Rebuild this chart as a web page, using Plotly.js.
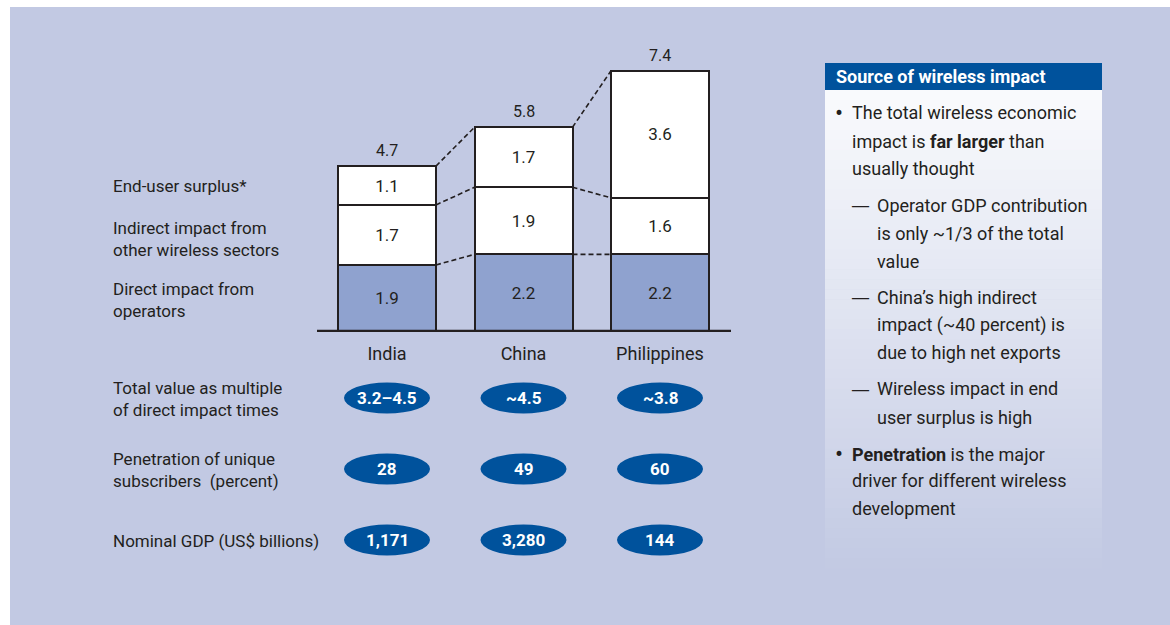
<!DOCTYPE html>
<html>
<head>
<meta charset="utf-8">
<script src="https://cdn.plot.ly/plotly-3.0.1.min.js"></script>
<style>html,body{margin:0;padding:0;background:#fff;}#chart{width:1170px;height:625px;}</style>
</head>
<body>
<div id="chart"></div>
<script>
// ---- data ----
const categories = ['India', 'China', 'Philippines'];
const directImpact = [1.9, 2.2, 2.2];
const indirectImpact = [1.7, 1.9, 1.6];
const endUserSurplus = [1.1, 1.7, 3.6];
const totals = [4.7, 5.8, 7.4];
const seriesLabels = ['Direct impact from<br>operators', 'Indirect impact from<br>other wireless sectors', 'End-user surplus*'];
const multiples = ['3.2–4.5', '~4.5', '~3.8'];
const penetration = ['28', '49', '60'];
const nominalGdp = ['1,171', '3,280', '144'];
const rowLabels = ['Total value as multiple<br>of direct impact times', 'Penetration of unique<br>subscribers  (percent)', 'Nominal GDP (US$ billions)'];
const boxTitle = 'Source of wireless impact';
const boxLines = [
  {kind: 'bullet', lines: ['The total wireless economic', 'impact is <b>far larger</b> than', 'usually thought']},
  {kind: 'dash', lines: ['Operator GDP contribution', 'is only ~1/3 of the total', 'value']},
  {kind: 'dash', lines: ['China’s high indirect', 'impact (~40 percent) is', 'due to high net exports']},
  {kind: 'dash', lines: ['Wireless impact in end', 'user surplus is high']},
  {kind: 'bullet', lines: ['<b>Penetration</b> is the major', 'driver for different wireless', 'development']}
];

// ---- geometry helpers ----
const W = 1170, H = 625;
const fx = p => p / W;
const fy = p => 1 - p / H;
const FONT = 'Roboto, "Liberation Sans", Arial, sans-serif';
const INK = '#231f20';
const BG = '#c2c9e3';
const NAVY = '#00529c';
const BARBLUE = '#8fa2cf';

const step = 136.5;              // px per category
const x0px = 387;                // px centre of first category
const barPx = 98;
const hw = barPx / 2 / step;     // half bar width in category units
const basePx = 332, unitPx = 35.3;
const yMax = 8;

const xs = categories.map((c, i) => i);
const cum1 = directImpact.slice();
const cum2 = directImpact.map((v, i) => v + indirectImpact[i]);
const cum3 = cum2.map((v, i) => v + endUserSurplus[i]);

function barTrace(vals, color) {
  return {
    type: 'bar', x: xs, y: vals, width: 2 * hw,
    marker: {color: color, line: {color: INK, width: 2}},
    text: vals.map(v => v.toFixed(1)), textposition: 'inside', insidetextanchor: 'middle',
    textangle: 0, constraintext: 'none',
    textfont: {family: FONT, size: 17, color: INK},
    hoverinfo: 'skip', showlegend: false
  };
}

function connector(levels) {
  const x = [], y = [];
  for (let i = 0; i < levels.length - 1; i++) {
    x.push(i + hw, i + 1 - hw, null);
    y.push(levels[i], levels[i + 1], null);
  }
  return {type: 'scatter', mode: 'lines', x: x, y: y, connectgaps: false,
    line: {color: INK, width: 1.6, dash: '5px,3px'}, hoverinfo: 'skip', showlegend: false};
}

const traces = [
  barTrace(directImpact, BARBLUE),
  barTrace(indirectImpact, '#ffffff'),
  barTrace(endUserSurplus, '#ffffff'),
  connector(cum1), connector(cum2), connector(cum3)
];

const shapes = [];
const annotations = [];

// totals above bars
totals.forEach((v, i) => {
  annotations.push({xref: 'x', yref: 'y', x: i, y: v, yanchor: 'bottom', xanchor: 'center', yshift: 4,
    text: v.toFixed(1), showarrow: false, font: {family: FONT, size: 16, color: INK}});
});

// panel background
shapes.push({type: 'rect', xref: 'paper', yref: 'paper', x0: fx(10), x1: 1, y0: 0, y1: fy(7),
  fillcolor: BG, line: {width: 0}, layer: 'below'});

// right box gradient body
const boxL = 825, boxR = 1102, headT = 63, headB = 90, boxB = 568;
const c0 = [250, 251, 253], c1 = [194, 201, 227];
const N = 48;
for (let k = 0; k < N; k++) {
  const t = (k + 0.5) / N;
  const c = c0.map((v, j) => Math.round(v + (c1[j] - v) * t));
  const top = headB + (boxB - headB) * k / N;
  const bot = headB + (boxB - headB) * (k + 1) / N + 0.6;
  shapes.push({type: 'rect', xref: 'paper', yref: 'paper', x0: fx(boxL), x1: fx(boxR),
    y0: fy(bot), y1: fy(top), fillcolor: `rgb(${c[0]},${c[1]},${c[2]})`, line: {width: 0}, layer: 'below'});
}
shapes.push({type: 'rect', xref: 'paper', yref: 'paper', x0: fx(boxL), x1: fx(boxR),
  y0: fy(headB), y1: fy(headT), fillcolor: NAVY, line: {width: 0}, layer: 'below'});
annotations.push({xref: 'paper', yref: 'paper', x: fx(834), y: fy(77), xanchor: 'left', yanchor: 'middle',
  text: '<b>' + boxTitle + '</b>', showarrow: false, font: {family: FONT, size: 18, color: '#ffffff'}});

// box bullet text
const lineYs = [[113, 141, 169], [205, 233, 261], [297, 325, 352], [389, 417], [454, 481, 508]];
boxLines.forEach((blk, b) => {
  const isBullet = blk.kind === 'bullet';
  const textX = isBullet ? 850 : 875;
  annotations.push({xref: 'paper', yref: 'paper', x: fx(isBullet ? 833 : 849), y: fy(lineYs[b][0]),
    xanchor: 'left', yanchor: 'middle',
    text: isBullet ? '•' : '—', showarrow: false,
    font: {family: isBullet ? FONT : '"DejaVu Sans", ' + FONT, size: isBullet ? 24 : 19, color: INK}});
  blk.lines.forEach((ln, j) => {
    annotations.push({xref: 'paper', yref: 'paper', x: fx(textX), y: fy(lineYs[b][j]), xanchor: 'left', yanchor: 'middle',
      text: ln, showarrow: false, font: {family: FONT, size: 18, color: INK}});
  });
});

// baseline
shapes.push({type: 'line', xref: 'x', yref: 'y', x0: (317 - x0px) / step, x1: (731 - x0px) / step, y0: 0, y1: 0,
  line: {color: INK, width: 4.5}, layer: 'above'});

// series labels at India segment mid-heights
const segMids = [directImpact[0] / 2, cum1[0] + indirectImpact[0] / 2, cum2[0] + endUserSurplus[0] / 2];
const segShift = [-2, -4, 0];
seriesLabels.forEach((lab, i) => {
  annotations.push({xref: 'paper', yref: 'y', x: fx(111), y: segMids[i], yshift: segShift[i], xanchor: 'left', yanchor: 'middle',
    align: 'left', text: lab, showarrow: false, font: {family: FONT, size: 17, color: INK}});
});

// rows of ellipses
const rowYs = [398, 469, 540];
const rowVals = [multiples, penetration, nominalGdp];
const ellHalfW = 43 / step, ellHalfH = 15.5;
rowVals.forEach((vals, r) => {
  annotations.push({xref: 'paper', yref: 'paper', x: fx(111), y: fy(rowYs[r] + 1), xanchor: 'left', yanchor: 'middle',
    align: 'left', text: rowLabels[r], showarrow: false, font: {family: FONT, size: 17, color: INK}});
  vals.forEach((v, i) => {
    shapes.push({type: 'circle', xref: 'x', yref: 'paper', x0: i - ellHalfW, x1: i + ellHalfW,
      y0: fy(rowYs[r] + ellHalfH), y1: fy(rowYs[r] - ellHalfH), fillcolor: NAVY, line: {width: 0}, layer: 'above'});
    annotations.push({xref: 'x', yref: 'paper', x: i, y: fy(rowYs[r]), xanchor: 'center', yanchor: 'middle',
      text: '<b>' + v + '</b>', showarrow: false, font: {family: FONT, size: 17, color: '#ffffff'}});
  });
});

const layout = {
  width: W, height: H,
  margin: {l: 0, r: 0, t: 0, b: 0, pad: 0},
  paper_bgcolor: '#ffffff', plot_bgcolor: 'rgba(0,0,0,0)',
  barmode: 'stack', showlegend: false,
  font: {family: FONT, color: INK},
  xaxis: {
    domain: [fx(x0px - step), fx(x0px + 3 * step)], range: [-1, 3], type: 'linear',
    tickvals: xs, ticktext: categories, ticks: '', ticklabelstandoff: 9,
    tickfont: {family: FONT, size: 18, color: INK},
    showgrid: false, zeroline: false, showline: false, fixedrange: true
  },
  yaxis: {
    domain: [fy(basePx), fy(basePx - yMax * unitPx)], range: [0, yMax],
    visible: false, showgrid: false, zeroline: false, fixedrange: true
  },
  shapes: shapes, annotations: annotations
};

Plotly.newPlot('chart', traces, layout, {staticPlot: true, displayModeBar: false});
</script>
</body>
</html>
